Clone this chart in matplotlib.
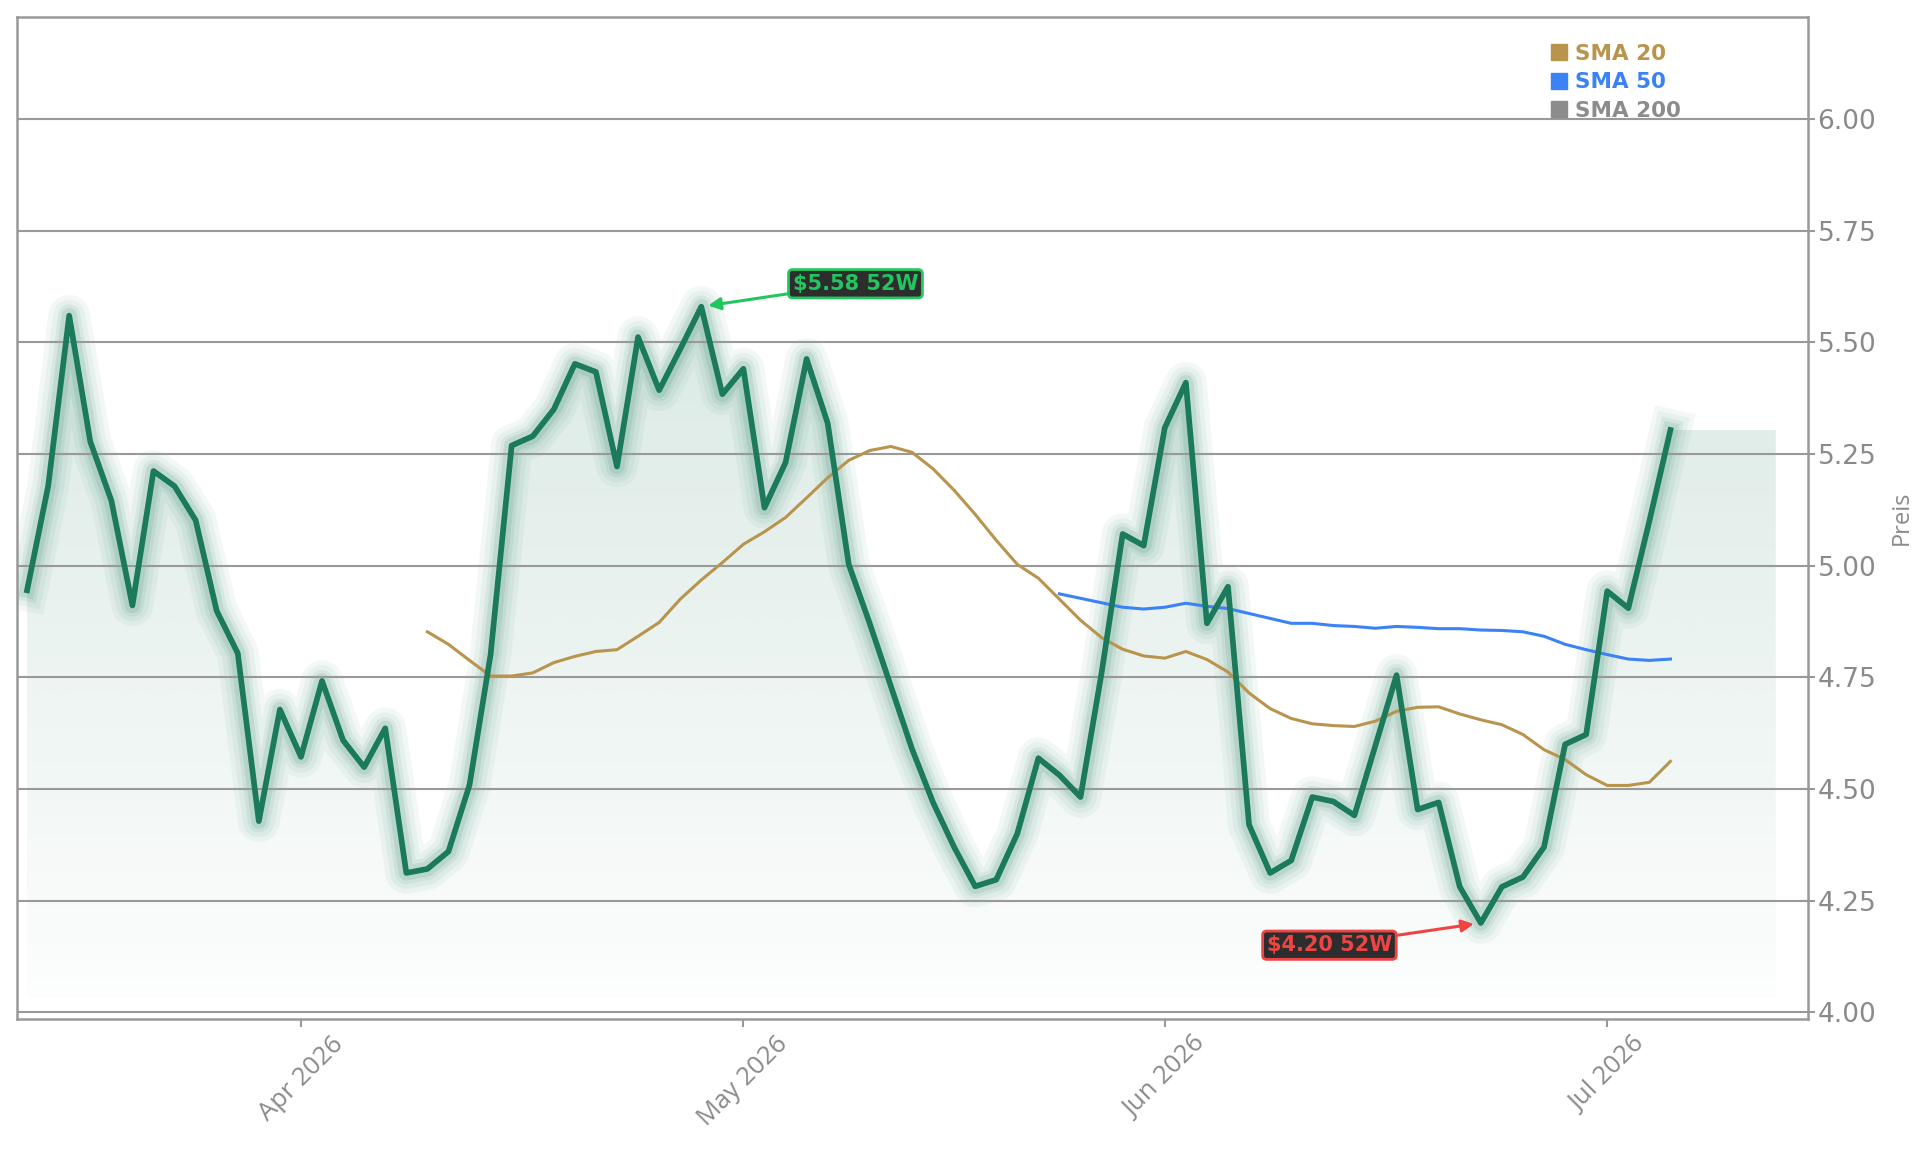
import matplotlib
matplotlib.use('Agg')
import matplotlib.pyplot as plt
from matplotlib.lines import Line2D
from matplotlib.patches import Polygon
import numpy as np
import pandas as pd

# trading days from 13 Mar 2026, exchange holidays skipped
START = '2026-03-13'
HOLIDAYS = ['2026-04-03', '2026-05-25', '2026-06-19', '2026-07-03']

price = [
    4.945, 5.178, 5.56, 5.278, 5.146, 4.911, 5.212, 5.178, 5.102, 4.899,
    4.804, 4.428, 4.678, 4.572, 4.742, 4.609, 4.549, 4.636, 4.312, 4.321,
    4.36, 4.509, 4.801, 5.269, 5.29, 5.35, 5.452, 5.434, 5.222, 5.512,
    5.393, 5.485, 5.58, 5.384, 5.441, 5.13, 5.231, 5.463, 5.319, 5.003,
    4.87, 4.73, 4.59, 4.47, 4.37, 4.282, 4.297, 4.40, 4.569, 4.531,
    4.482, 4.76, 5.071, 5.045, 5.309, 5.41, 4.871, 4.953, 4.42, 4.312,
    4.34, 4.482, 4.472, 4.441, 4.598, 4.755, 4.454, 4.47, 4.281, 4.20,
    4.281, 4.303, 4.37, 4.60, 4.622, 4.943, 4.905, 5.10, 5.304,
]

# moving averages as drawn (SMA 20 from day 19, SMA 50 from day 49)
sma20 = [
    4.852, 4.824, 4.788, 4.753, 4.753, 4.76, 4.783, 4.797, 4.808, 4.812,
    4.842, 4.873, 4.925, 4.968, 5.007, 5.048, 5.076, 5.108, 5.152, 5.197,
    5.236, 5.258, 5.267, 5.254, 5.217, 5.169, 5.115, 5.057, 5.003, 4.972,
    4.925, 4.878, 4.839, 4.813, 4.798, 4.793, 4.808, 4.79, 4.762, 4.715,
    4.68, 4.658, 4.646, 4.642, 4.64, 4.652, 4.674, 4.683, 4.684, 4.668,
    4.655, 4.644, 4.622, 4.588, 4.566, 4.532, 4.508, 4.508, 4.515, 4.562,
]
sma50 = [
    4.937, 4.927, 4.917, 4.907, 4.903, 4.907, 4.916, 4.909, 4.904, 4.893,
    4.882, 4.871, 4.871, 4.866, 4.864, 4.86, 4.864, 4.862, 4.859, 4.859,
    4.856, 4.855, 4.852, 4.842, 4.824, 4.812, 4.801, 4.791, 4.788, 4.791,
]

legend_names = ['SMA 20', 'SMA 50', 'SMA 200']
legend_colors = ['#b8944c', '#3b82f6', '#8c8c8c']

GREEN = '#1b7a5b'
GRAY = '#8a8a8a'

n = len(price)
x = np.arange(n)
dates = pd.bdate_range(START, periods=n, freq='C', holidays=HOLIDAYS)

fig = plt.figure(figsize=(19.29, 11.53), dpi=100)
ax = fig.add_axes([0.0089, 0.1166, 0.9286, 0.8684])

# gradient area under the price line
fill_bottom = min(price) * 0.96
fill_right = x[-1] + 5
grad = np.linspace(0, 1, 256).reshape(-1, 1)
rgba = np.zeros((256, 1, 4))
rgba[..., :3] = matplotlib.colors.to_rgb(GREEN)
rgba[..., 3] = 0.012 + 0.15 * grad
im = ax.imshow(rgba, extent=[0, fill_right, fill_bottom, max(price)],
               origin='lower', aspect='auto', zorder=0.5)
verts = [(0, fill_bottom)] + list(zip(x, price)) + \
        [(fill_right, price[-1]), (fill_right, fill_bottom)]
clip = Polygon(verts, closed=True, transform=ax.transData,
               facecolor='none', edgecolor='none')
ax.add_patch(clip)
im.set_clip_path(clip)

# glow
for lw, a in [(30, 0.05), (23, 0.06), (16, 0.08), (11, 0.11)]:
    ax.plot(x, price, color=GREEN, lw=lw, alpha=a, zorder=1)
ax.plot(x, price, color=GREEN, lw=4.1, zorder=3)

ax.plot(x[19:], sma20, color=legend_colors[0], lw=2.2, zorder=2.5)
ax.plot(x[49:], sma50, color=legend_colors[1], lw=2.2, zorder=2.5)

# 52 week high / low
i_hi = int(np.argmax(price))
i_lo = int(np.argmin(price))
ax.annotate('$%.2f 52W' % price[i_hi], xy=(x[i_hi], price[i_hi]),
            xytext=(111, 16.5), textcoords='offset points',
            ha='center', va='center', fontsize=15, fontweight='bold',
            color='#22c55e', zorder=5,
            bbox=dict(boxstyle='round,pad=0.2', fc='#2d2d2d', ec='#22c55e', lw=2),
            arrowprops=dict(arrowstyle='-|>', color='#22c55e', lw=2.2,
                            shrinkA=0, shrinkB=5, mutation_scale=18))
ax.annotate('$%.2f 52W' % price[i_lo], xy=(x[i_lo], price[i_lo]),
            xytext=(-109, -16), textcoords='offset points',
            ha='center', va='center', fontsize=15, fontweight='bold',
            color='#ef4444', zorder=5,
            bbox=dict(boxstyle='round,pad=0.2', fc='#2d2d2d', ec='#ef4444', lw=2),
            arrowprops=dict(arrowstyle='-|>', color='#ef4444', lw=2.2,
                            shrinkA=0, shrinkB=5, mutation_scale=18))

# legend
handles = [Line2D([], [], marker='s', ls='none', color=c, markersize=11)
           for c in legend_colors]
leg = ax.legend(handles, legend_names, loc='upper left', bbox_to_anchor=(0.846, 0.993),
                frameon=False, handlelength=0.7, handletextpad=0.38, labelspacing=0.4,
                prop={'weight': 'bold', 'size': 15.5})
leg.set_zorder(6)
for t, c in zip(leg.get_texts(), legend_colors):
    t.set_color(c)

# axes
ax.set_xlim(-0.47, 84.55)
ax.set_ylim(3.986, 6.228)

month_idx = [i for i in range(1, n) if dates[i].month != dates[i - 1].month]
ax.set_xticks(month_idx)
ax.set_xticklabels([dates[i].strftime('%b %Y') for i in month_idx],
                   rotation=45, fontsize=18.5, color=GRAY, family='Open Sans')

ax.yaxis.tick_right()
ax.yaxis.set_label_position('right')
ax.set_yticks(np.arange(4.0, 6.01, 0.25))
ax.set_yticklabels(['%.2f' % v for v in np.arange(4.0, 6.01, 0.25)],
                   fontsize=19, color=GRAY)
ax.set_ylabel('Preis', fontsize=17, color=GRAY, family='Open Sans', labelpad=10)

ax.tick_params(axis='both', colors='#999999', length=6, width=1.5)
ax.tick_params(axis='y', labelcolor=GRAY, length=5, pad=1.5)
ax.tick_params(axis='x', labelcolor=GRAY)
ax.yaxis.grid(True, color='#999999', lw=1.5, zorder=1.5)
for s in ax.spines.values():
    s.set_color('#999999')
    s.set_linewidth(1.8)

fig.savefig('out.png', dpi=100)
